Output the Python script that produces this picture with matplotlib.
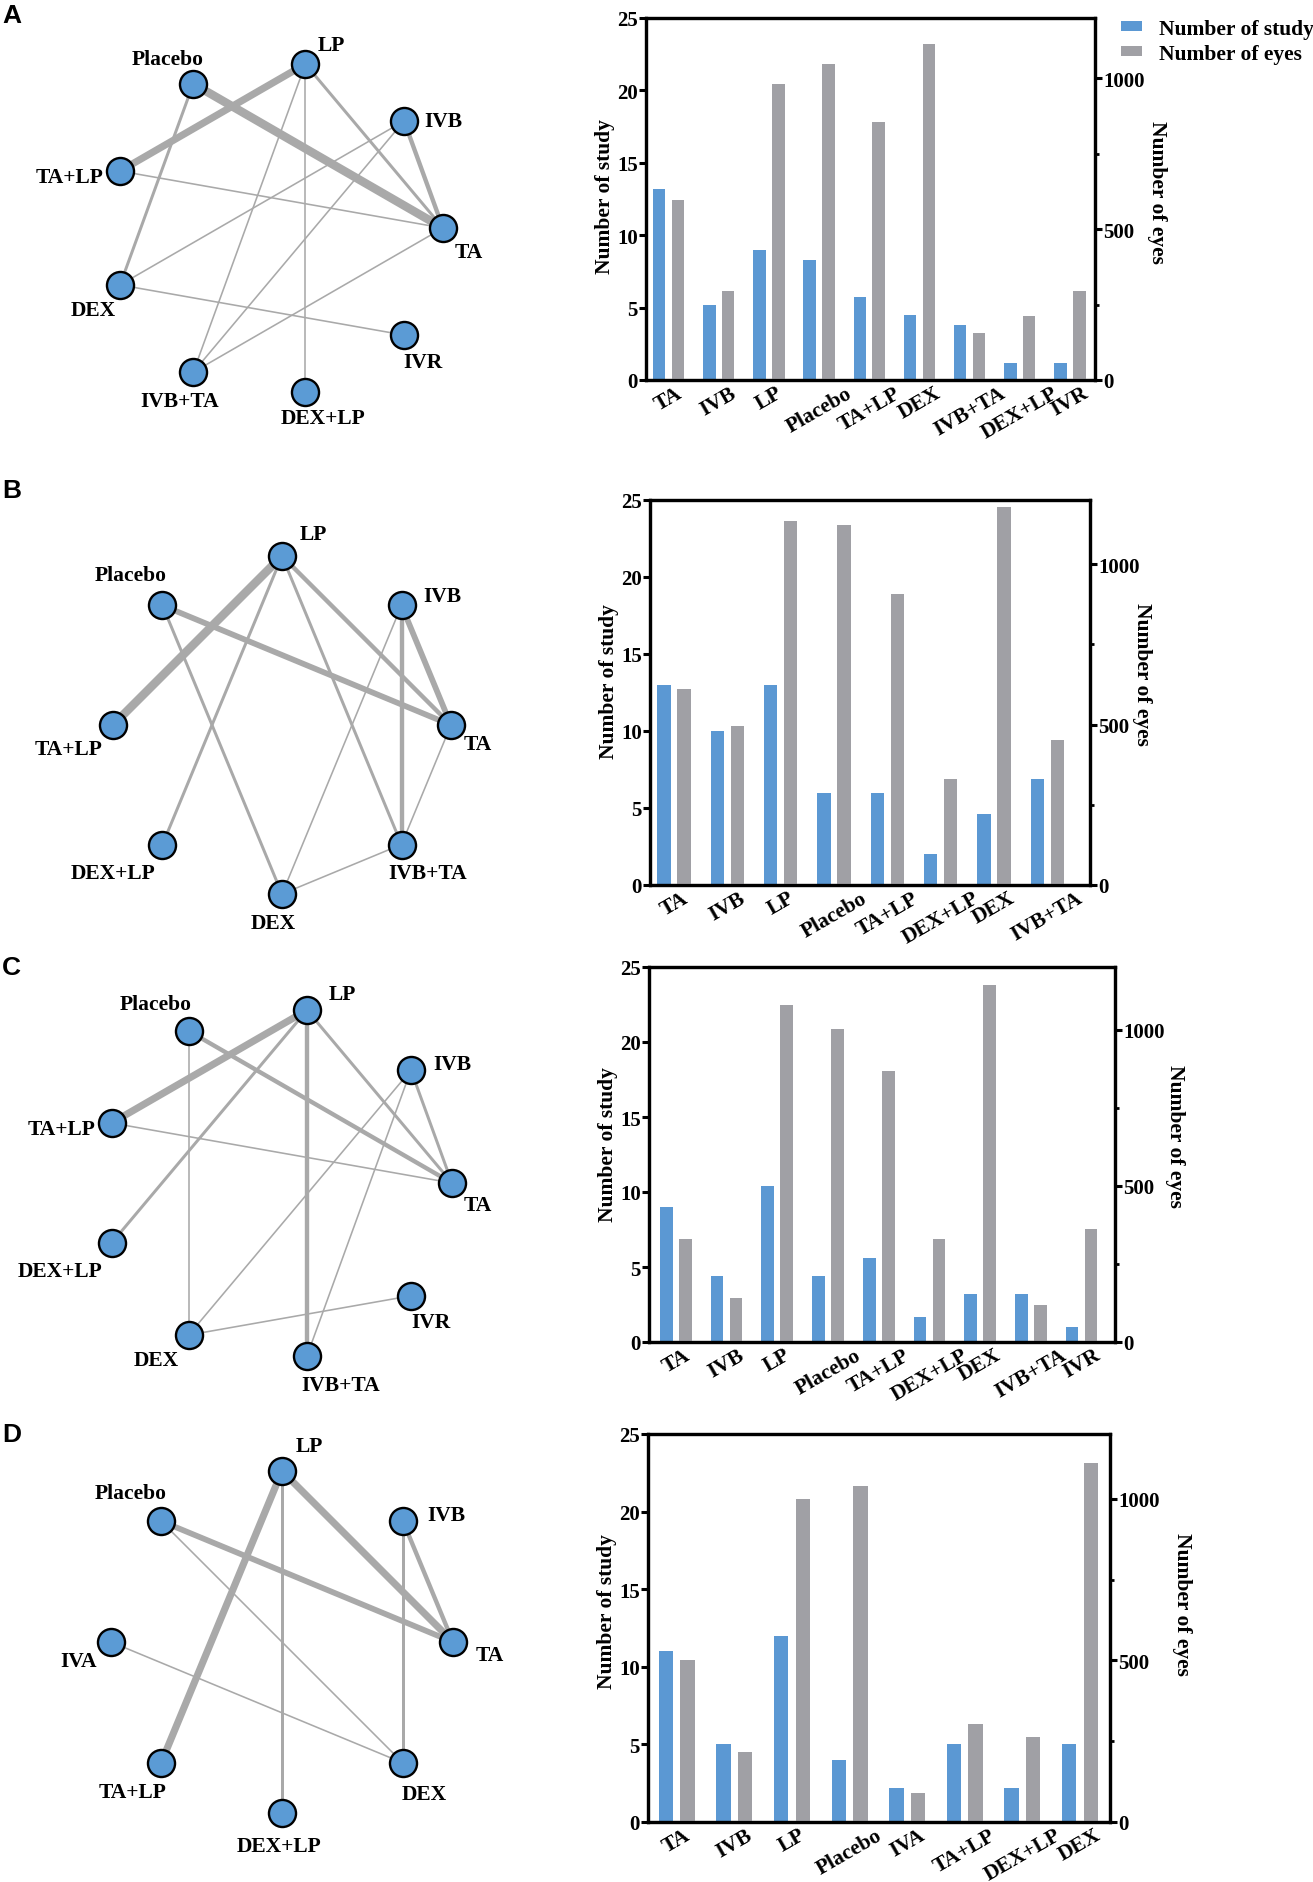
import numpy as np
import matplotlib
matplotlib.use("Agg")
import matplotlib.pyplot as plt
from matplotlib.patches import Patch

# ---------------- data ----------------
A_cats = ['TA', 'IVB', 'LP', 'Placebo', 'TA+LP', 'DEX', 'IVB+TA', 'DEX+LP', 'IVR']
A_study = [13.2, 5.2, 9.0, 8.3, 5.7, 4.5, 3.8, 1.2, 1.2]
A_eyes = [597, 296, 981, 1048, 854, 1114, 156, 213, 296]
A_edges = [('Placebo', 'TA', 6), ('LP', 'TA+LP', 5), ('IVB', 'TA', 3), ('Placebo', 'DEX', 2),
           ('LP', 'TA', 2), ('LP', 'IVB+TA', 1), ('LP', 'DEX+LP', 1), ('IVB', 'DEX', 1),
           ('IVB', 'IVB+TA', 1), ('TA+LP', 'TA', 1), ('TA', 'IVB+TA', 1), ('DEX', 'IVR', 1)]

B_cats = ['TA', 'IVB', 'LP', 'Placebo', 'TA+LP', 'DEX+LP', 'DEX', 'IVB+TA']
B_study = [13, 10, 13, 6, 6, 2, 4.6, 6.9]
B_eyes = [612, 495, 1134, 1123, 908, 329, 1179, 453]
B_edges = [('LP', 'TA+LP', 6), ('Placebo', 'TA', 4), ('IVB', 'TA', 4), ('LP', 'TA', 3),
           ('IVB', 'IVB+TA', 3), ('LP', 'DEX+LP', 2), ('LP', 'IVB+TA', 2), ('Placebo', 'DEX', 2),
           ('IVB', 'DEX', 1), ('TA', 'IVB+TA', 1), ('DEX', 'IVB+TA', 1)]

C_cats = ['TA', 'IVB', 'LP', 'Placebo', 'TA+LP', 'DEX+LP', 'DEX', 'IVB+TA', 'IVR']
C_study = [9, 4.4, 10.4, 4.4, 5.6, 1.7, 3.2, 3.2, 1.0]
C_eyes = [330, 141, 1078, 1001, 867, 330, 1143, 117, 362]
C_edges = [('LP', 'TA+LP', 5), ('Placebo', 'TA', 3), ('LP', 'IVB+TA', 3), ('LP', 'DEX+LP', 2),
           ('LP', 'TA', 2), ('IVB', 'TA', 2), ('Placebo', 'DEX', 1), ('TA+LP', 'TA', 1),
           ('IVB', 'DEX', 1), ('IVB', 'IVB+TA', 1), ('DEX', 'IVR', 1)]

D_cats = ['TA', 'IVB', 'LP', 'Placebo', 'IVA', 'TA+LP', 'DEX+LP', 'DEX']
D_study = [11, 5, 12, 4, 2.2, 5, 2.2, 5]
D_eyes = [501, 217, 999, 1039, 91, 302, 264, 1111]
D_edges = [('LP', 'TA+LP', 5), ('LP', 'TA', 5), ('Placebo', 'TA', 4), ('IVB', 'TA', 3),
           ('LP', 'DEX+LP', 2), ('IVB', 'DEX', 2), ('Placebo', 'DEX', 1), ('IVA', 'DEX', 1)]

panel_letters = ['A', 'B', 'C', 'D']
legend_labels = ['Number of study', 'Number of eyes']

# ---------------- style / layout ----------------
W, H = 1313, 1883
BLUE = '#5b98d3'
GRAY = '#a0a0a5'
EDGE = '#a9a9a9'
NODE = '#5b9bd5'

plt.rcParams['font.family'] = ['Liberation Serif', 'DejaVu Serif']
plt.rcParams['font.weight'] = 'bold'

fig = plt.figure(figsize=(W / 100, H / 100), dpi=100)

# network overlay axes in pixel coordinates
net = fig.add_axes([0, 0, 1, 1])
net.set_xlim(0, W)
net.set_ylim(H, 0)
net.axis('off')

panels = [
    dict(cats=A_cats, study=A_study, eyes=A_eyes, edges=A_edges,
         circ=(276.5, 229, 166.5),
         offs={'TA': (26, 24), 'IVB': (39, 0), 'LP': (26, -19), 'Placebo': (-26, -25),
               'TA+LP': (-50, 6), 'DEX': (-27, 25), 'IVB+TA': (-14, 29),
               'DEX+LP': (18, 26), 'IVR': (19, 27)},
         letter_y=16,
         rect=(646, 1095, 19, 381), xl=(-0.45, 8.5),
         lab_l=(-0.069, 0.51), lab_r=(1.138, 0.52), legend=True),
    dict(cats=B_cats, study=B_study, eyes=B_eyes, edges=B_edges,
         circ=(282, 726, 169),
         offs={'TA': (27, 19), 'IVB': (41, -9), 'LP': (31, -22), 'Placebo': (-32, -30),
               'TA+LP': (-44, 24), 'DEX+LP': (-49, 28), 'DEX': (-9, 29), 'IVB+TA': (26, 28)},
         letter_y=491,
         rect=(650, 1090, 501, 886), xl=(-0.45, 7.8),
         lab_l=(-0.070, 0.53), lab_r=(1.118, 0.55), legend=False),
    dict(cats=C_cats, study=C_study, eyes=C_eyes, edges=C_edges,
         circ=(276.5, 1184, 175.5),
         offs={'TA': (26, 22), 'IVB': (41, -6), 'LP': (35, -16), 'Placebo': (-33, -27),
               'TA+LP': (-50, 6), 'DEX+LP': (-52, 28), 'DEX': (-33, 25), 'IVB+TA': (34, 29),
               'IVR': (20, 26)},
         letter_y=968,
         rect=(649, 1115, 968, 1343), xl=(-0.53, 8.66),
         lab_l=(-0.0665, 0.53), lab_r=(1.129, 0.55), legend=False),
    dict(cats=D_cats, study=D_study, eyes=D_eyes, edges=D_edges,
         circ=(282, 1643, 171),
         offs={'TA': (37, 13), 'IVB': (43, -6), 'LP': (27, -25), 'Placebo': (-30, -28),
               'IVA': (-32, 19), 'TA+LP': (-29, 29), 'DEX+LP': (-3, 33), 'DEX': (21, 31)},
         letter_y=1435,
         rect=(648, 1110, 1435, 1823), xl=(-0.5, 7.52),
         lab_l=(-0.067, 0.546), lab_r=(1.156, 0.564), legend=False),
]

LW_PER_COUNT = 1.0
LW_BASE = 0.15

for letter, p in zip(panel_letters, panels):
    # ---------- network ----------
    cats = p['cats']
    n = len(cats)
    cx, cy, r = p['circ']
    ang = np.deg2rad(np.arange(n) * 360.0 / n)
    pos = {c: (cx + r * np.cos(a), cy - r * np.sin(a)) for c, a in zip(cats, ang)}
    for a, b, w in p['edges']:
        (x1, y1), (x2, y2) = pos[a], pos[b]
        net.plot([x1, x2], [y1, y2], color=EDGE, lw=LW_BASE + LW_PER_COUNT * w,
                 solid_capstyle='butt', zorder=1)
    xs = [pos[c][0] for c in cats]
    ys = [pos[c][1] for c in cats]
    net.scatter(xs, ys, s=380, facecolor=NODE, edgecolor='black', linewidths=1.7, zorder=3)
    for c in cats:
        dx, dy = p['offs'][c]
        net.text(pos[c][0] + dx, pos[c][1] + dy, c, ha='center', va='center',
                 fontsize=15.5, fontweight='bold', zorder=4)
    net.text(2, p['letter_y'], letter, ha='left', va='center', fontsize=19,
             fontweight='bold', family=['Liberation Sans', 'DejaVu Sans'])

    # ---------- bar chart ----------
    l, rr, t, b = p['rect']
    ax = fig.add_axes([l / W, 1 - b / H, (rr - l) / W, (b - t) / H])
    ax2 = ax.twinx()
    x = np.arange(n)
    bw = 0.25
    off = 0.187
    ax.bar(x - off, p['study'], width=bw, color=BLUE, zorder=2)
    ax2.bar(x + off, p['eyes'], width=bw, color=GRAY, zorder=2)
    ax.set_ylim(0, 25)
    ax2.set_ylim(0, 1200)
    ax.set_xlim(*p['xl'])
    ax.set_yticks([0, 5, 10, 15, 20, 25])
    ax2.set_yticks([0, 500, 1000])
    ax2.set_yticks([250, 750], minor=True)
    ax.set_xticks(x)
    ax.set_xticklabels(cats, rotation=30, ha='center', fontsize=15.5, fontweight='bold')
    ax.tick_params(axis='x', length=0, pad=2)
    ax.tick_params(axis='y', length=5, width=2.2, labelsize=15, pad=1)
    ax2.tick_params(axis='y', which='major', length=5, width=2.2, labelsize=15, pad=1)
    ax2.tick_params(axis='y', which='minor', length=3, width=2.0)
    for axx in (ax, ax2):
        for sp in axx.spines.values():
            sp.set_linewidth(2.3)
        for lab in axx.get_yticklabels():
            lab.set_fontweight('bold')
    ax.set_ylabel('Number of study', fontsize=15.5, fontweight='bold')
    ax.yaxis.set_label_coords(*p['lab_l'])
    ax2.set_ylabel('Number of eyes', fontsize=15.5, fontweight='bold', rotation=270,
                   va='center')
    ax2.yaxis.set_label_coords(*p['lab_r'])

    if p['legend']:
        handles = [Patch(facecolor=BLUE, edgecolor='none'),
                   Patch(facecolor=GRAY, edgecolor='none')]
        fig.legend(handles, legend_labels, loc='upper left',
                   bbox_to_anchor=(1112 / W, 1 - 11 / H), frameon=False,
                   handlelength=1.0, handleheight=0.35,
                   handletextpad=0.8, labelspacing=0.25, borderaxespad=0,
                   prop={'weight': 'bold', 'size': 15.5})

fig.savefig('out.png', dpi=100)
